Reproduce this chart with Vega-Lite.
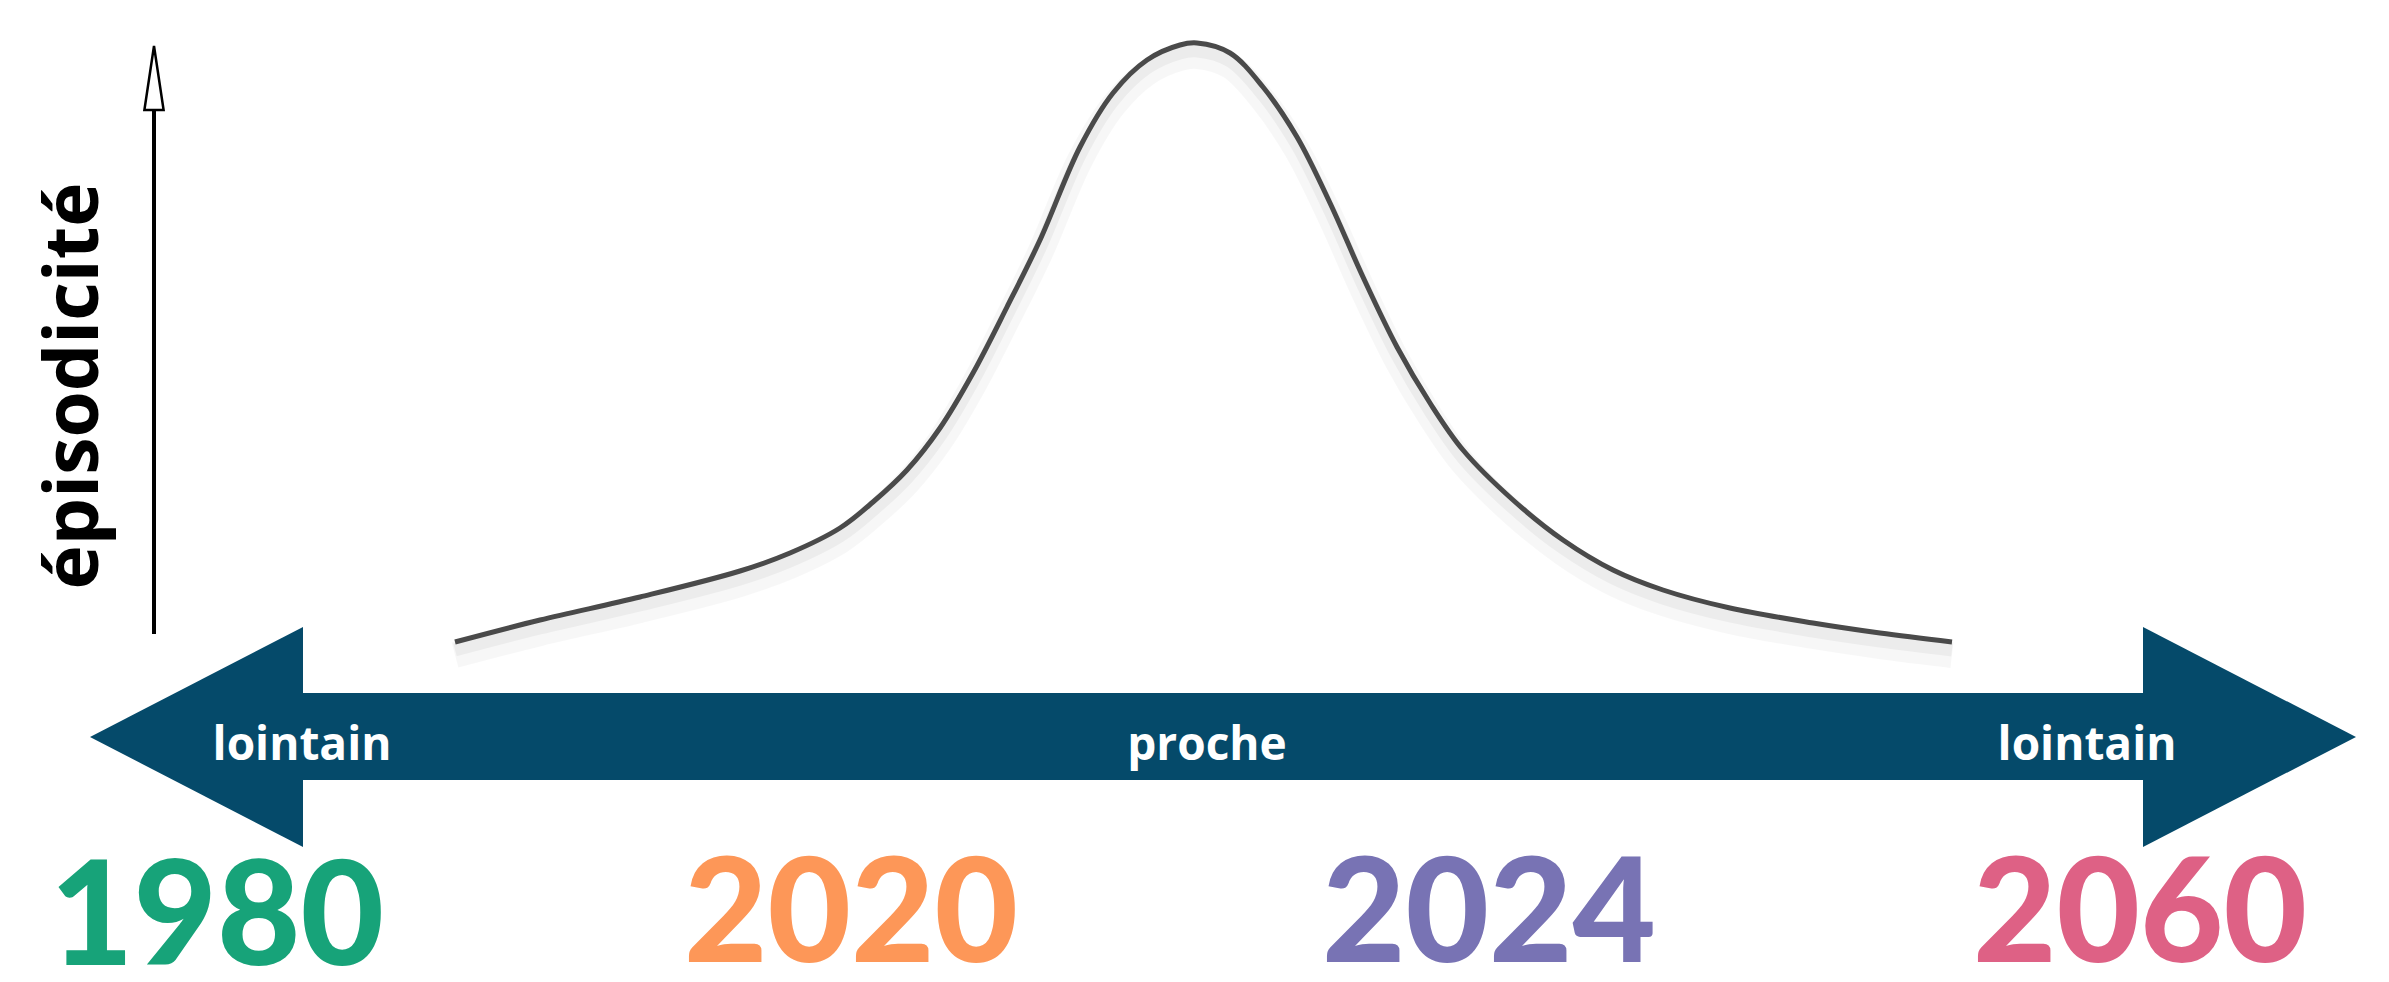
{
  "$schema": "https://vega.github.io/schema/vega-lite/v6.json",
  "width": 2389,
  "height": 982,
  "autosize": "none",
  "padding": 0,
  "background": "white",
  "config": {"view": {"stroke": null}},
  "datasets": {
    "heads": [
      {"side": "left", "pos": 90, "lo": 245, "hi": 245},
      {"side": "left", "pos": 303, "lo": 135, "hi": 355},
      {"side": "right", "pos": 2143, "lo": 135, "hi": 355},
      {"side": "right", "pos": 2356, "lo": 245, "hi": 245}
    ],
    "shaft": [{"from": 300, "to": 2146, "lo": 202, "hi": 289}],
    "curve": [
      {"pos": 455, "ep": 340}, {"pos": 540, "ep": 362}, {"pos": 640, "ep": 385},
      {"pos": 740, "ep": 411}, {"pos": 790, "ep": 429}, {"pos": 840, "ep": 454},
      {"pos": 873, "ep": 480}, {"pos": 907, "ep": 512}, {"pos": 940, "ep": 554},
      {"pos": 973, "ep": 609}, {"pos": 1007, "ep": 675}, {"pos": 1040, "ep": 742},
      {"pos": 1080, "ep": 835}, {"pos": 1113, "ep": 889}, {"pos": 1147, "ep": 922},
      {"pos": 1180, "ep": 937}, {"pos": 1197, "ep": 939}, {"pos": 1230, "ep": 929},
      {"pos": 1263, "ep": 895}, {"pos": 1297, "ep": 845}, {"pos": 1330, "ep": 779},
      {"pos": 1363, "ep": 705}, {"pos": 1397, "ep": 635}, {"pos": 1430, "ep": 579},
      {"pos": 1463, "ep": 532}, {"pos": 1513, "ep": 482}, {"pos": 1563, "ep": 442},
      {"pos": 1613, "ep": 412}, {"pos": 1663, "ep": 392}, {"pos": 1730, "ep": 374},
      {"pos": 1813, "ep": 359}, {"pos": 1880, "ep": 349}, {"pos": 1952, "ep": 340}
    ],
    "axisline": [{"pos": 154, "from": 348, "to": 872}],
    "axishead": [{"pos": 154, "ep": 904}],
    "axislabel": [{"label": "épisodicité", "pos": 75, "ep": 596}],
    "labels": [
      {"label": "lointain", "pos": 302, "ep": 222},
      {"label": "proche", "pos": 1207, "ep": 222},
      {"label": "lointain", "pos": 2087, "ep": 222}
    ],
    "years": [
      {"year": "1980", "pos": 217, "ep": 17},
      {"year": "2020", "pos": 851, "ep": 20},
      {"year": "2024", "pos": 1489, "ep": 20},
      {"year": "2060", "pos": 2140, "ep": 20}
    ]
  },
  "layer": [
    {
      "data": {"name": "shaft"},
      "mark": {"type": "rect", "color": "#054a6a"},
      "encoding": {
        "x": {"field": "from", "type": "quantitative", "scale": {"domain": [0, 2389], "nice": false, "zero": false}, "axis": null},
        "x2": {"field": "to"},
        "y": {"field": "lo", "type": "quantitative", "scale": {"domain": [0, 982], "nice": false, "zero": false}, "axis": null},
        "y2": {"field": "hi"}
      }
    },
    {
      "data": {"name": "heads"},
      "mark": {"type": "area", "color": "#054a6a", "interpolate": "linear"},
      "encoding": {
        "x": {"field": "pos", "type": "quantitative"},
        "y": {"field": "lo", "type": "quantitative", "stack": null},
        "y2": {"field": "hi"},
        "detail": {"field": "side", "type": "nominal"}
      }
    },
    {
      "data": {"name": "curve"},
      "mark": {"type": "line", "interpolate": "catmull-rom", "color": "#000000", "strokeWidth": 26, "opacity": 0.03, "yOffset": 13},
      "encoding": {
        "x": {"field": "pos", "type": "quantitative"},
        "y": {"field": "ep", "type": "quantitative"}
      }
    },
    {
      "data": {"name": "curve"},
      "mark": {"type": "line", "interpolate": "catmull-rom", "color": "#000000", "strokeWidth": 13, "opacity": 0.045, "yOffset": 8},
      "encoding": {
        "x": {"field": "pos", "type": "quantitative"},
        "y": {"field": "ep", "type": "quantitative"}
      }
    },
    {
      "data": {"name": "curve"},
      "mark": {"type": "line", "interpolate": "catmull-rom", "color": "#4a4a4a", "strokeWidth": 5},
      "encoding": {
        "x": {"field": "pos", "type": "quantitative"},
        "y": {"field": "ep", "type": "quantitative"}
      }
    },
    {
      "data": {"name": "axisline"},
      "mark": {"type": "rule", "color": "#000000", "strokeWidth": 4},
      "encoding": {
        "x": {"field": "pos", "type": "quantitative"},
        "y": {"field": "from", "type": "quantitative"},
        "y2": {"field": "to"}
      }
    },
    {
      "data": {"name": "axishead"},
      "mark": {"type": "point", "shape": "M0,-1L0.3,1L-0.3,1Z", "size": 4096, "filled": true, "fill": "white", "stroke": "#000000", "strokeWidth": 2.5, "opacity": 1},
      "encoding": {
        "x": {"field": "pos", "type": "quantitative"},
        "y": {"field": "ep", "type": "quantitative"}
      }
    },
    {
      "data": {"name": "axislabel"},
      "mark": {"type": "text", "angle": 270, "align": "center", "baseline": "middle", "font": "Open Sans", "fontWeight": "bold", "fontSize": 75, "color": "#000000"},
      "encoding": {
        "x": {"field": "pos", "type": "quantitative"},
        "y": {"field": "ep", "type": "quantitative"},
        "text": {"field": "label"}
      }
    },
    {
      "data": {"name": "labels"},
      "mark": {"type": "text", "align": "center", "baseline": "alphabetic", "font": "Open Sans", "fontWeight": "bold", "fontSize": 46, "color": "#ffffff"},
      "encoding": {
        "x": {"field": "pos", "type": "quantitative"},
        "y": {"field": "ep", "type": "quantitative"},
        "text": {"field": "label"}
      }
    },
    {
      "data": {"name": "years"},
      "mark": {"type": "text", "align": "center", "baseline": "alphabetic", "font": "Lato", "fontWeight": 900, "fontSize": 144},
      "encoding": {
        "x": {"field": "pos", "type": "quantitative"},
        "y": {"field": "ep", "type": "quantitative"},
        "text": {"field": "year"},
        "color": {"field": "year", "type": "nominal", "legend": null, "scale": {"domain": ["1980", "2020", "2024", "2060"], "range": ["#17a379", "#fd9758", "#7873b4", "#de6185"]}}
      }
    }
  ]
}
